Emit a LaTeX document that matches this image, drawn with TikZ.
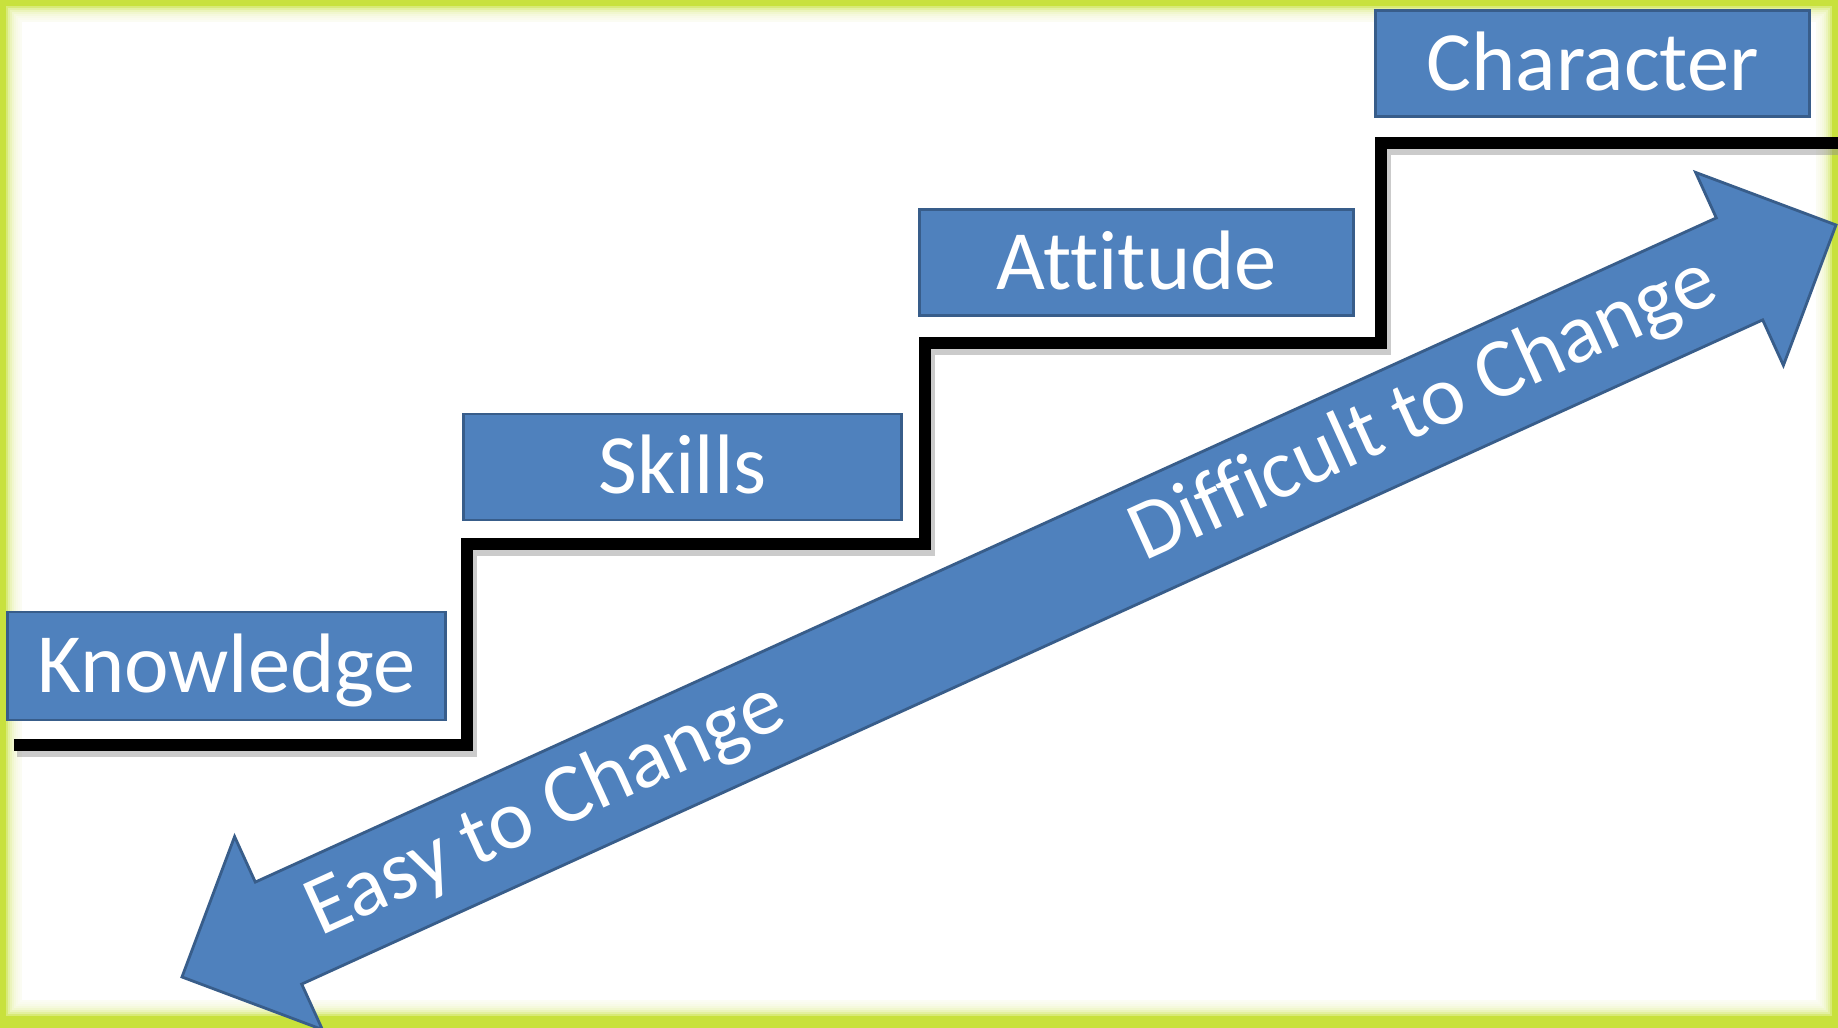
\documentclass[tikz,border=0pt]{standalone}
\usepackage{fontspec}
\setmainfont{Carlito}[Ligatures=NoCommon]
\usetikzlibrary{calc}
\definecolor{boxblue}{RGB}{79,129,189}
\definecolor{boxedge}{RGB}{56,93,138}
\definecolor{limeframe}{RGB}{200,225,60}
\begin{document}
\begin{tikzpicture}[x=0.01cm,y=-0.01cm,
  stepbox/.style={draw=boxedge, line width=0.8pt, fill=boxblue, text=white,
    font=\fontsize{24}{28}\selectfont, minimum width=4.35cm, minimum height=1.06cm,
    inner sep=0pt, text height=15.2pt, text depth=0pt},
  arrowtext/.style={text=white, font=\fontsize{24}{28}\selectfont, inner sep=0pt,
    text height=15.2pt, text depth=0pt},
  stairline/.style={line width=3.4pt, black, line join=miter},
  stairshadow/.style={line width=4.2pt, black!45, opacity=0.45, line join=miter},
  bigarrow/.style={fill=boxblue, draw=boxedge, line width=0.8pt, line join=miter}]
\useasboundingbox (0,0) rectangle (1838,1028);
% frame
\fill[limeframe] (0,0) rectangle (1838,1028);
\foreach \i in {0,...,7}
  \fill[white, opacity=0.3] ({6+2*\i},{6+2*\i}) rectangle ({1832-2*\i},{1016-2*\i});
\fill[white] (22,22) rectangle (1816,1000);
% stair coordinates
\coordinate (s0) at (14,745);
\coordinate (s1) at (467,544);
\coordinate (s2) at (925,343);
\coordinate (s3) at (1381,143);
\coordinate (s4) at (1838,143);
% stair shadow and line
\begin{scope}[shift={(3,5)}]
\draw[stairshadow] (14,745) -| (467,544) -| (925,343) -| (1381,143) -- (1838,143);
\end{scope}
\draw[stairline] (s0) -| (s1) -| (s2) -| (s3) -- (s4);
% boxes
\node[stepbox, minimum height=1.08cm, minimum width=4.37cm] (knowledge) at (226.5,666) {Knowledge};
\node[stepbox, minimum width=4.37cm] (skills) at (682.5,467) {Skills};
\node[stepbox, minimum width=4.33cm] (attitude) at (1136.5,262.5) {Attitude};
\node[stepbox, minimum width=4.33cm] (character) at (1592.5,63.5) {Character};
% double arrow
\coordinate (tipA) at (182,977);
\coordinate (barbAm) at (234.6,836.6);
\coordinate (innAm) at (255.3,882.1);
\coordinate (innBm) at (1716.3,217.9);
\coordinate (barbBm) at (1695.6,172.4);
\coordinate (tipB) at (1836,225);
\coordinate (barbBp) at (1783.4,365.4);
\coordinate (innBp) at (1762.7,319.9);
\coordinate (innAp) at (301.7,984.1);
\coordinate (barbAp) at (322.4,1029.6);
\draw[bigarrow] (tipA) -- (barbAm) -- (innAm) -- (innBm) -- (barbBm) -- (tipB)
  -- (barbBp) -- (innBp) -- (innAp) -- (barbAp) -- cycle;
\node[arrowtext, rotate=24.45] (easy) at (544,806) {Easy to Change};
\node[arrowtext, rotate=24.45] (difficult) at (1422,406) {Difficult to Change};
\end{tikzpicture}
\end{document}
